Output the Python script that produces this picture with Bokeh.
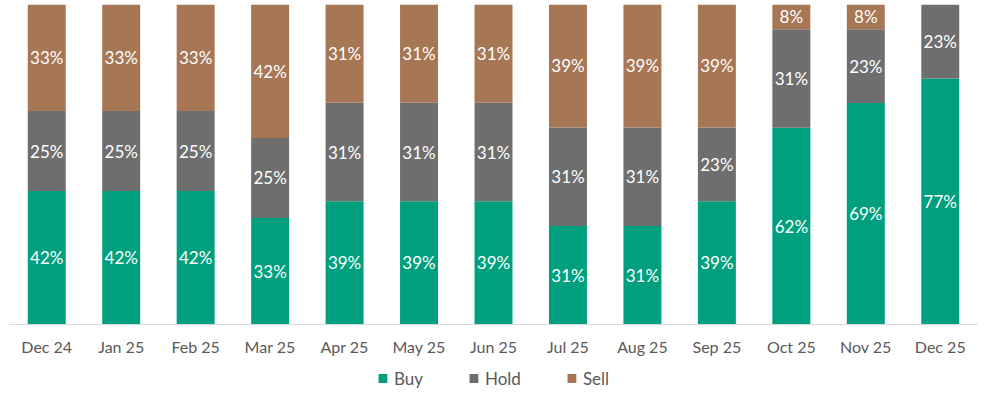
import math
from bokeh.plotting import figure
from bokeh.layouts import column
from bokeh.models import ColumnDataSource, Legend, LegendItem, Range1d, FactorRange
from bokeh.core.properties import value
from bokeh.embed import file_html
from bokeh.resources import INLINE

months = ["Dec 24", "Jan 25", "Feb 25", "Mar 25", "Apr 25", "May 25", "Jun 25",
          "Jul 25", "Aug 25", "Sep 25", "Oct 25", "Nov 25", "Dec 25"]
buy = [41.7, 41.7, 41.7, 33.3, 38.5, 38.5, 38.5, 30.8, 30.8, 38.5, 61.5, 69.2, 76.9]
hold = [25.0, 25.0, 25.0, 25.0, 30.8, 30.8, 30.8, 30.8, 30.8, 23.1, 30.8, 23.1, 23.1]
sell = [33.3, 33.3, 33.3, 41.7, 30.8, 30.8, 30.8, 38.5, 38.5, 38.5, 7.7, 7.7, 0.0]

series = ["Buy", "Hold", "Sell"]
colors = ["#00A07F", "#6E6E6E", "#A67655"]
FONT = "Lato"

src = ColumnDataSource(dict(month=months, Buy=buy, Hold=hold, Sell=sell))

p = figure(x_range=FactorRange(*months, range_padding=0), y_range=Range1d(0, 100),
           frame_width=968, frame_height=320, output_backend="svg", toolbar_location=None,
           min_border_left=9, min_border_right=4, min_border_top=4, min_border_bottom=0)

p.vbar_stack(series, x="month", width=0.51, source=src, color=colors, line_color=None)

# data labels
lx, ly, lt = [], [], []
for i, m in enumerate(months):
    base = 0.0
    for vals in (buy, hold, sell):
        v = vals[i]
        if v > 0:
            lx.append(m)
            ly.append(base + v / 2)
            lt.append(f"{math.floor(v + 0.5)}%")
        base += v
p.text(x=lx, y=ly, text=lt, text_color="white", text_font=value(FONT),
       text_font_size="17px", text_align="center", text_baseline="middle")

p.yaxis.visible = False
p.xgrid.visible = False
p.ygrid.visible = False
p.outline_line_color = None
xa = p.xaxis[0]
xa.axis_line_color = "#D9D9D9"
xa.axis_line_width = 1
xa.major_tick_line_color = None
xa.minor_tick_line_color = None
xa.major_tick_out = 0
xa.major_tick_in = 0
xa.major_label_text_font = FONT
xa.major_label_text_font_size = "16px"
xa.major_label_text_color = "#595959"
xa.major_label_standoff = 12

# legend strip below the chart (same stacked series, drawn outside its visible range)
p2 = figure(x_range=FactorRange(*months, range_padding=0), y_range=Range1d(200, 201),
            frame_width=968, frame_height=40,
            output_backend="svg", toolbar_location=None, x_axis_location=None,
            y_axis_location=None, min_border_left=9, min_border_right=4,
            min_border_top=0, min_border_bottom=0)
p2.xgrid.visible = False
p2.ygrid.visible = False
p2.outline_line_color = None
leg_renderers = p2.vbar_stack(series, x="month", width=0.51, source=src, color=colors,
                              line_color=None)
items = [LegendItem(label=s, renderers=[r]) for s, r in zip(series, leg_renderers)]
legend = Legend(items=items, orientation="horizontal", location="center",
                label_text_font=FONT, label_text_font_size="17px", label_text_color="#595959",
                glyph_width=11, glyph_height=11, label_standoff=6, spacing=45,
                border_line_color=None, background_fill_alpha=0, padding=0, margin=0)
p2.add_layout(legend, "center")

open("out.html", "w").write(file_html(column(p, p2), INLINE))
